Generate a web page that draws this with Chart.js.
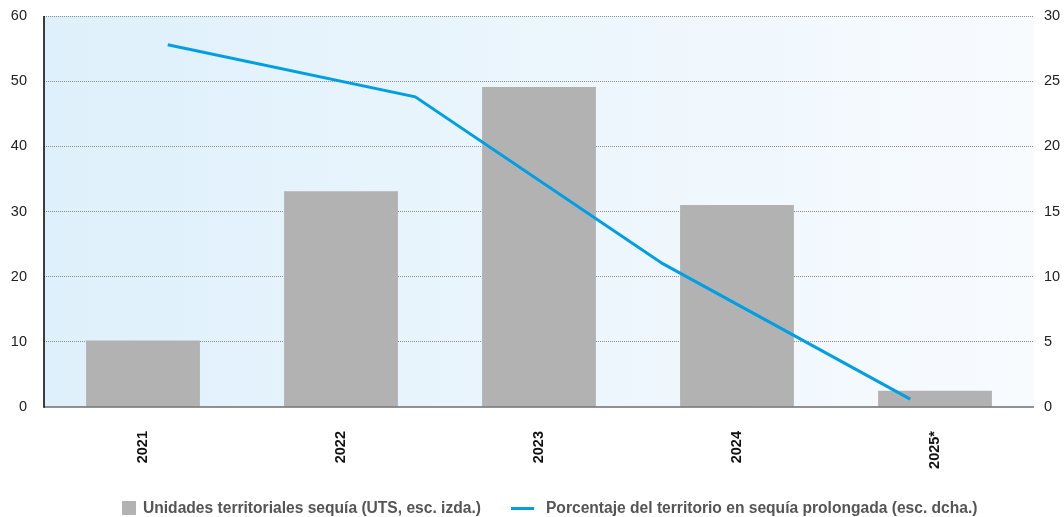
<!DOCTYPE html>
<html lang="es">
<head>
    <meta charset="UTF-8">
    <title>Sequía</title>
    <script src="https://cdn.jsdelivr.net/npm/chart.js@4.4.1/dist/chart.umd.min.js"></script>
    <style>
        html, body { margin: 0; padding: 0; background: #fff; }
        #wrap { position: relative; width: 1064px; height: 517px; }
        #legend {
            position: absolute; left: 122px; top: 499px; height: 18px;
            display: flex; align-items: center;
            font: bold 15.6px 'Liberation Sans', Arial, Helvetica, sans-serif;
            color: #555; white-space: nowrap;
        }
        #legend .item { display: flex; align-items: center; margin-right: 30px; }
        #legend .box { width: 14px; height: 14px; margin-right: 7px; }
        #legend .line { width: 23px; height: 3px; margin-right: 12px; }
    </style>
</head>
<body>
<div id="wrap">
    <canvas id="chart"></canvas>
    <div id="legend"></div>
</div>

<script>
    // Data
    const years = ['2021', '2022', '2023', '2024', '2025*'];
    const utsValues = [10.2, 33.1, 49.1, 31.0, 2.5];
    const lineLabels = ['2021', '2022', '2023', '2024'];
    const drySharePct = [27.8, 23.8, 11.0, 0.6];

    const leftTicks = [0, 10, 20, 30, 40, 50, 60];
    const rightTicks = [0, 5, 10, 15, 20, 25, 30];

    const FONT = "'Liberation Sans', Arial, Helvetica, sans-serif";

    // background gradient + black left axis + solid zero line
    const backdrop = {
        id: 'backdrop',
        beforeDraw(chart) {
            const { ctx, chartArea: a } = chart;
            const g = ctx.createLinearGradient(a.left, 0, a.right, 0);
            g.addColorStop(0, '#def0fb');
            g.addColorStop(1, '#f8fbfe');
            ctx.save();
            ctx.fillStyle = g;
            ctx.fillRect(a.left, a.top, a.right - a.left, a.bottom - a.top);
            ctx.restore();
        },
        afterDatasetsDraw(chart) {
            const { ctx, chartArea: a, scales } = chart;
            const y0 = scales.y.getPixelForValue(0);
            ctx.save();
            ctx.strokeStyle = '#6e6e6e';
            ctx.lineWidth = 1.5;
            ctx.beginPath();
            ctx.moveTo(a.left, y0);
            ctx.lineTo(a.right, y0);
            ctx.stroke();
            ctx.strokeStyle = '#000';
            ctx.lineWidth = 1.5;
            ctx.beginPath();
            ctx.moveTo(a.left, a.top);
            ctx.lineTo(a.left, y0 + 0.75);
            ctx.stroke();
            ctx.restore();
        }
    };

    // fixed axis width, no extra top/bottom room for the tick labels
    const fitY = w => scale => {
        scale.width = w;
        scale.paddingTop = 0;
        scale.paddingBottom = 0;
    };

    const chart = new Chart(document.getElementById('chart'), {
        type: 'bar',
        data: {
            labels: years,
            datasets: [
                {
                    type: 'bar',
                    label: 'Unidades territoriales sequía (UTS, esc. izda.)',
                    data: utsValues,
                    xAxisID: 'x',
                    yAxisID: 'y',
                    backgroundColor: '#b2b2b2',
                    borderWidth: 0,
                    grouped: false,
                    categoryPercentage: 1,
                    barPercentage: 0.575,
                    order: 1
                },
                {
                    type: 'line',
                    label: 'Porcentaje del territorio en sequía prolongada (esc. dcha.)',
                    data: drySharePct,
                    xAxisID: 'x2',
                    yAxisID: 'y1',
                    borderColor: '#009fe3',
                    backgroundColor: '#009fe3',
                    borderWidth: 3,
                    pointRadius: 0,
                    tension: 0,
                    order: 0
                }
            ]
        },
        options: {
            responsive: true,
            maintainAspectRatio: false,
            animation: false,
            layout: { padding: { top: 16, bottom: 18, left: 0, right: 0 } },
            plugins: {
                legend: { display: false },
                tooltip: { enabled: false }
            },
            scales: {
                x: {
                    type: 'category',
                    offset: true,
                    grid: { display: false, drawTicks: false },
                    border: { display: false },
                    ticks: {
                        autoSkip: false,
                        minRotation: 90,
                        maxRotation: 90,
                        padding: 24,
                        color: '#111',
                        font: { family: FONT, size: 14.5, weight: 'bold' }
                    },
                    afterFit(scale) { scale.height = 92; }
                },
                x2: {
                    type: 'category',
                    labels: lineLabels,
                    offset: true,
                    display: false
                },
                y: {
                    position: 'left',
                    min: 0,
                    max: 60,
                    afterBuildTicks(scale) { scale.ticks = leftTicks.map(v => ({ value: v })); },
                    grid: {
                        drawTicks: false,
                        lineWidth: 1,
                        color: ctx => ctx.tick && ctx.tick.value === 0 ? 'rgba(0,0,0,0)' : '#8c8c8c'
                    },
                    border: { display: false, dash: [1, 1] },
                    ticks: {
                        padding: 17,
                        color: '#222',
                        font: { family: FONT, size: 14.5 }
                    },
                    afterFit: fitY(44)
                },
                y1: {
                    position: 'right',
                    min: 0,
                    max: 30,
                    afterBuildTicks(scale) { scale.ticks = rightTicks.map(v => ({ value: v })); },
                    grid: { drawOnChartArea: false, drawTicks: false },
                    border: { display: false },
                    ticks: {
                        padding: 10,
                        color: '#222',
                        font: { family: FONT, size: 14.5 }
                    },
                    afterFit: fitY(30)
                }
            }
        },
        plugins: [backdrop]
    });

    // HTML legend built from the datasets
    const legendEl = document.getElementById('legend');
    chart.data.datasets.forEach(ds => {
        const item = document.createElement('div');
        item.className = 'item';
        const mark = document.createElement('span');
        mark.className = ds.type === 'line' ? 'line' : 'box';
        mark.style.background = ds.type === 'line' ? ds.borderColor : ds.backgroundColor;
        const text = document.createElement('span');
        text.textContent = ds.label;
        item.appendChild(mark);
        item.appendChild(text);
        legendEl.appendChild(item);
    });
</script>
</body>
</html>
